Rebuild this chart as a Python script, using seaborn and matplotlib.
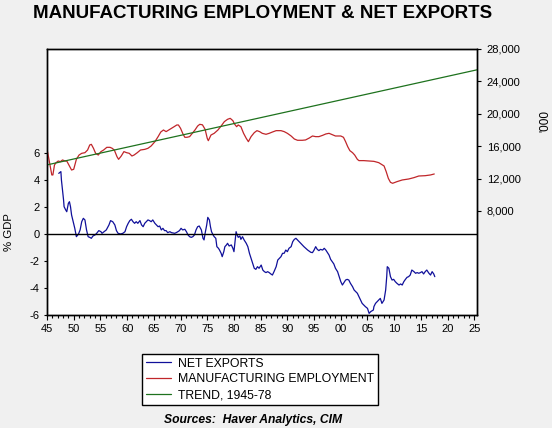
import matplotlib
matplotlib.use("Agg")
import matplotlib.pyplot as plt
from matplotlib.ticker import MultipleLocator, FixedLocator, FuncFormatter
import pandas as pd
import seaborn as sns

# Manufacturing employment ('000)
emp_years = [1945.1, 1945.5, 1945.9, 1946.1, 1946.4, 1946.7, 1947.1, 1947.5, 1947.9, 1948.4,
             1948.7, 1949.1, 1949.6, 1950.0, 1950.5, 1951.0, 1951.5, 1952.1, 1952.6, 1953.0,
             1953.3, 1953.7, 1954.1, 1954.6, 1955.1, 1955.6, 1956.2, 1956.8, 1957.2, 1957.6,
             1958.1, 1958.4, 1958.9, 1959.4, 1959.9, 1960.4, 1960.9, 1961.3, 1961.9, 1962.5,
             1963.3, 1963.9, 1964.5, 1965.2, 1965.8, 1966.3, 1966.8, 1967.3, 1967.8, 1968.3,
             1968.8, 1969.3, 1969.6, 1970.0, 1970.4, 1970.8, 1971.2, 1971.7, 1972.2, 1972.7,
             1973.2, 1973.6, 1974.1, 1974.6, 1975.0, 1975.2, 1975.7, 1976.3, 1977.0, 1977.6,
             1978.2, 1978.8, 1979.3, 1979.8, 1980.1, 1980.5, 1980.8, 1981.3, 1981.8, 1982.3,
             1982.7, 1983.2, 1983.8, 1984.3, 1984.8, 1985.3, 1986.0, 1986.6, 1987.2, 1987.9,
             1988.8, 1989.4, 1990.0, 1990.7, 1991.3, 1991.9, 1992.8, 1993.4, 1994.1, 1994.7,
             1995.3, 1995.9, 1996.6, 1997.2, 1997.8, 1998.4, 1999.0, 2000.0, 2000.5, 2000.9,
             2001.3, 2001.7, 2002.2, 2002.6, 2003.1, 2003.4, 2004.3, 2005.3, 2006.2, 2007.1,
             2008.1, 2008.5, 2008.9, 2009.3, 2009.7, 2010.5, 2011.5, 2012.7, 2013.7, 2014.6,
             2015.8, 2016.8, 2017.5]
emp_vals = [15330, 13890, 12450, 12450, 13680, 13970, 14170, 14090, 14300, 14170,
            14170, 13680, 13060, 13150, 14380, 14910, 15120, 15200, 15530, 16150,
            16230, 15740, 15120, 14910, 15330, 15530, 15860, 15860, 15740, 15530,
            14710, 14380, 14790, 15330, 15200, 15120, 14790, 14910, 15200, 15530,
            15610, 15740, 16030, 16560, 17180, 17750, 18000, 17800, 18000, 18210,
            18410, 18620, 18620, 18210, 17590, 17100, 17100, 17180, 17590, 18000,
            18490, 18700, 18640, 18080, 16970, 16680, 17380, 17590, 18000, 18490,
            19030, 19320, 19440, 19150, 18740, 18410, 18620, 18410, 17590, 16970,
            16560, 17180, 17670, 17920, 17800, 17590, 17470, 17590, 17750, 17920,
            17920, 17800, 17590, 17260, 16890, 16730, 16730, 16770, 17010, 17260,
            17180, 17180, 17340, 17510, 17590, 17420, 17260, 17260, 17100, 16560,
            15940, 15450, 15200, 14910, 14380, 14220, 14220, 14170, 14130, 13970,
            13560, 12860, 12030, 11540, 11420, 11620, 11830, 11950, 12120, 12320,
            12360, 12450, 12570]

# Net exports (% GDP)
nx_years = [1947.2, 1947.6, 1947.7, 1947.9, 1948.1, 1948.2, 1948.5, 1948.7, 1949.0, 1949.2,
            1949.4, 1949.6, 1949.9, 1950.2, 1950.5, 1950.9, 1951.2, 1951.5, 1951.8, 1952.1,
            1952.4, 1952.7, 1953.0, 1953.3, 1953.6, 1954.0, 1954.3, 1954.7, 1955.1, 1955.3,
            1955.7, 1956.1, 1956.6, 1956.9, 1957.3, 1957.7, 1958.0, 1958.3, 1958.8, 1959.2,
            1959.6, 1959.9, 1960.2, 1960.5, 1960.8, 1961.1, 1961.4, 1961.7, 1962.0, 1962.4,
            1962.7, 1963.0, 1963.3, 1963.6, 1963.9, 1964.2, 1964.5, 1964.8, 1965.2, 1965.5,
            1965.8, 1966.1, 1966.4, 1966.7, 1967.0, 1967.3, 1967.6, 1968.0, 1968.3, 1968.9,
            1969.2, 1969.5, 1969.8, 1970.1, 1970.4, 1970.8, 1971.1, 1971.4, 1971.7, 1972.0,
            1972.3, 1972.6, 1972.9, 1973.2, 1973.5, 1973.9, 1974.2, 1974.4, 1974.6, 1974.9,
            1975.1, 1975.4, 1975.6, 1975.8, 1976.1, 1976.3, 1976.6, 1976.8, 1977.1, 1977.3,
            1977.6, 1977.8, 1978.1, 1978.3, 1978.6, 1978.8, 1979.1, 1979.5, 1979.8, 1980.0,
            1980.2, 1980.4, 1980.6, 1980.8, 1981.1, 1981.3, 1981.6, 1981.9, 1982.3, 1982.6,
            1982.9, 1983.2, 1983.5, 1983.8, 1984.1, 1984.4, 1984.7, 1985.1, 1985.4, 1985.7,
            1986.0, 1986.3, 1986.6, 1986.9, 1987.2, 1987.5, 1987.9, 1988.2, 1988.5, 1988.8,
            1989.1, 1989.4, 1989.7, 1990.0, 1990.3, 1990.7, 1991.0, 1991.3, 1991.6, 1991.9,
            1992.2, 1992.5, 1993.1, 1993.8, 1994.4, 1994.7, 1995.0, 1995.3, 1995.6, 1995.9,
            1996.2, 1996.6, 1996.9, 1997.2, 1997.5, 1997.8, 1998.1, 1998.4, 1998.7, 1999.0,
            1999.4, 1999.7, 2000.0, 2000.3, 2000.6, 2000.9, 2001.2, 2001.5, 2001.8, 2002.2,
            2002.5, 2002.8, 2003.1, 2003.4, 2003.7, 2004.0, 2004.3, 2004.6, 2005.0, 2005.3,
            2005.6, 2006.1, 2006.2, 2006.5, 2006.8, 2007.1, 2007.4, 2007.7, 2008.1, 2008.4,
            2008.6, 2008.7, 2009.0, 2009.3, 2009.6, 2009.9, 2010.2, 2010.5, 2010.9, 2011.2,
            2011.5, 2011.8, 2012.1, 2012.4, 2012.7, 2013.0, 2013.3, 2013.7, 2014.0, 2014.3,
            2014.6, 2014.9, 2015.2, 2015.5, 2015.8, 2016.1, 2016.5, 2016.8, 2017.1, 2017.4,
            2017.6]
nx_vals = [4.49, 4.62, 4.00, 3.26, 2.52, 2.02, 1.78, 1.65, 2.27, 2.39,
           2.02, 1.41, 0.91, 0.42, -0.20, 0.00, 0.30, 0.91, 1.16, 1.04,
           0.30, -0.20, -0.25, -0.32, -0.15, -0.07, 0.05, 0.25, 0.17, 0.05,
           0.17, 0.30, 0.67, 0.99, 0.91, 0.67, 0.25, 0.05, 0.00, 0.05,
           0.17, 0.54, 0.79, 0.99, 1.09, 0.91, 0.79, 0.91, 0.79, 0.99,
           0.67, 0.54, 0.79, 0.91, 1.04, 0.99, 0.91, 1.04, 0.79, 0.67,
           0.54, 0.59, 0.30, 0.42, 0.25, 0.25, 0.10, 0.17, 0.10, 0.05,
           0.10, 0.17, 0.25, 0.42, 0.30, 0.35, 0.17, -0.07, -0.20, -0.25,
           -0.20, -0.07, 0.30, 0.54, 0.59, 0.30, -0.32, -0.44, 0.05, 0.67,
           1.23, 1.04, 0.54, 0.17, -0.07, -0.20, -0.32, -0.94, -1.06, -1.19,
           -1.43, -1.68, -1.31, -0.94, -0.81, -0.69, -0.89, -0.81, -1.06, -1.31,
           -0.57, 0.17, -0.07, -0.25, -0.15, -0.40, -0.20, -0.44, -0.69, -0.94,
           -1.43, -1.80, -2.17, -2.54, -2.62, -2.42, -2.54, -2.30, -2.67, -2.79,
           -2.86, -2.79, -2.86, -2.96, -3.04, -2.79, -2.42, -1.93, -1.80, -1.68,
           -1.43, -1.43, -1.19, -1.31, -1.06, -0.94, -0.57, -0.40, -0.32, -0.44,
           -0.57, -0.69, -0.94, -1.19, -1.36, -1.38, -1.19, -0.94, -1.14, -1.23,
           -1.14, -1.19, -1.06, -1.19, -1.38, -1.56, -1.88, -2.05, -2.22, -2.54,
           -2.79, -3.16, -3.53, -3.78, -3.60, -3.41, -3.36, -3.41, -3.65, -3.90,
           -4.15, -4.27, -4.39, -4.64, -4.89, -5.14, -5.26, -5.38, -5.51, -5.88,
           -5.75, -5.63, -5.38, -5.14, -5.01, -4.89, -4.77, -5.14, -4.89, -4.15,
           -3.16, -2.42, -2.54, -3.16, -3.41, -3.36, -3.53, -3.65, -3.78, -3.70,
           -3.78, -3.53, -3.36, -3.21, -3.16, -3.04, -2.67, -2.79, -2.91, -2.86,
           -2.91, -2.86, -2.79, -2.96, -2.79, -2.67, -2.91, -3.04, -2.79, -2.96,
           -3.16]

# Trend 1945-78, extended to the edge of the chart ('000)
trend_years = [1945.0, 2025.5]
trend_vals = [13690, 25430]

emp = pd.DataFrame({"year": emp_years, "value": emp_vals})
nx = pd.DataFrame({"year": nx_years, "value": nx_vals})
trend = pd.DataFrame({"year": trend_years, "value": trend_vals})

sns.set_style("white")
plt.rcParams["font.family"] = ["Liberation Sans", "DejaVu Sans"]
plt.rcParams["text.color"] = "black"
plt.rcParams["axes.labelcolor"] = "black"
plt.rcParams["xtick.color"] = "black"
plt.rcParams["ytick.color"] = "black"

BLUE = "#10109a"
RED = "#c0262a"
GREEN = "#1e721e"

fig = plt.figure(figsize=(5.52, 4.28), dpi=100)
fig.patch.set_facecolor("#f0f0f0")
ax = fig.add_axes([47 / 552, 1 - 315 / 428, 430 / 552, 266 / 428])
ax.set_facecolor("white")
ax2 = ax.twinx()

sns.lineplot(data=nx, x="year", y="value", ax=ax, color=BLUE, lw=0.9,
             estimator=None, sort=False, label="NET EXPORTS", legend=False)
ax.axhline(0, color="black", lw=1.0)
sns.lineplot(data=emp, x="year", y="value", ax=ax2, color=RED, lw=0.9,
             estimator=None, sort=False, label="MANUFACTURING EMPLOYMENT", legend=False)
sns.lineplot(data=trend, x="year", y="value", ax=ax2, color=GREEN, lw=0.9,
             estimator=None, sort=False, label="TREND, 1945-78", legend=False)

ax.set_xlim(1945, 2025.5)
ax.set_ylim(-6, 13.7)
ax2.set_ylim(-4840, 28000)

ax.xaxis.set_major_locator(MultipleLocator(5))
ax.xaxis.set_minor_locator(MultipleLocator(1))
ax.xaxis.set_major_formatter(FuncFormatter(lambda v, p: f"{int(round(v)) % 100:02d}"))
ax.yaxis.set_major_locator(FixedLocator([-6, -4, -2, 0, 2, 4, 6]))
ax.yaxis.set_major_formatter(FuncFormatter(lambda v, p: f"{int(v)}"))
ax2.yaxis.set_major_locator(FixedLocator([8000, 12000, 16000, 20000, 24000, 28000]))
ax2.yaxis.set_major_formatter(FuncFormatter(lambda v, p: f"{int(v):,}"))

ax.tick_params(axis="x", which="major", direction="out", length=3.5, width=0.8,
               labelsize=8, pad=3, bottom=True)
ax.tick_params(axis="x", which="minor", direction="out", length=2.2, width=0.8, bottom=True)
ax.tick_params(axis="y", direction="out", length=2.2, width=0.8, labelsize=8, pad=3, left=True)
ax2.tick_params(axis="y", direction="out", length=3, width=0.8, labelsize=8, pad=4, right=True)

for a in (ax, ax2):
    for s in a.spines.values():
        s.set_color("black")
        s.set_linewidth(1.0)

ax.set_xlabel("")
ax.set_ylabel("% GDP", fontsize=8.2)
ax.yaxis.set_label_coords(-0.077, 0.313)
ax2.set_ylabel("'000", fontsize=8.5, rotation=90)
ax2.yaxis.set_label_coords(1.146, 0.73)

fig.text(263 / 552, 1 - 14 / 428, "MANUFACTURING EMPLOYMENT & NET EXPORTS",
         ha="center", va="center", fontsize=13.5, fontweight="bold")

handles = ax.get_lines()[:1] + ax2.get_lines()[:2]
labels = ["NET EXPORTS", "MANUFACTURING EMPLOYMENT", "TREND, 1945-78"]
leg = fig.legend(handles, labels, loc="upper left",
                 bbox_to_anchor=(142 / 552, 1 - 354 / 428), borderaxespad=0,
                 fontsize=8.8, frameon=True, fancybox=False, framealpha=1,
                 edgecolor="black", handlelength=2.1, handletextpad=0.55,
                 labelspacing=0.3, borderpad=0.3)
leg.get_frame().set_linewidth(1.0)

fig.text(253 / 552, 1 - 420 / 428, "Sources:  Haver Analytics, CIM",
         ha="center", va="center", fontsize=8.7, fontweight="bold", style="italic")

fig.savefig("out.png", dpi=100, facecolor=fig.get_facecolor())
